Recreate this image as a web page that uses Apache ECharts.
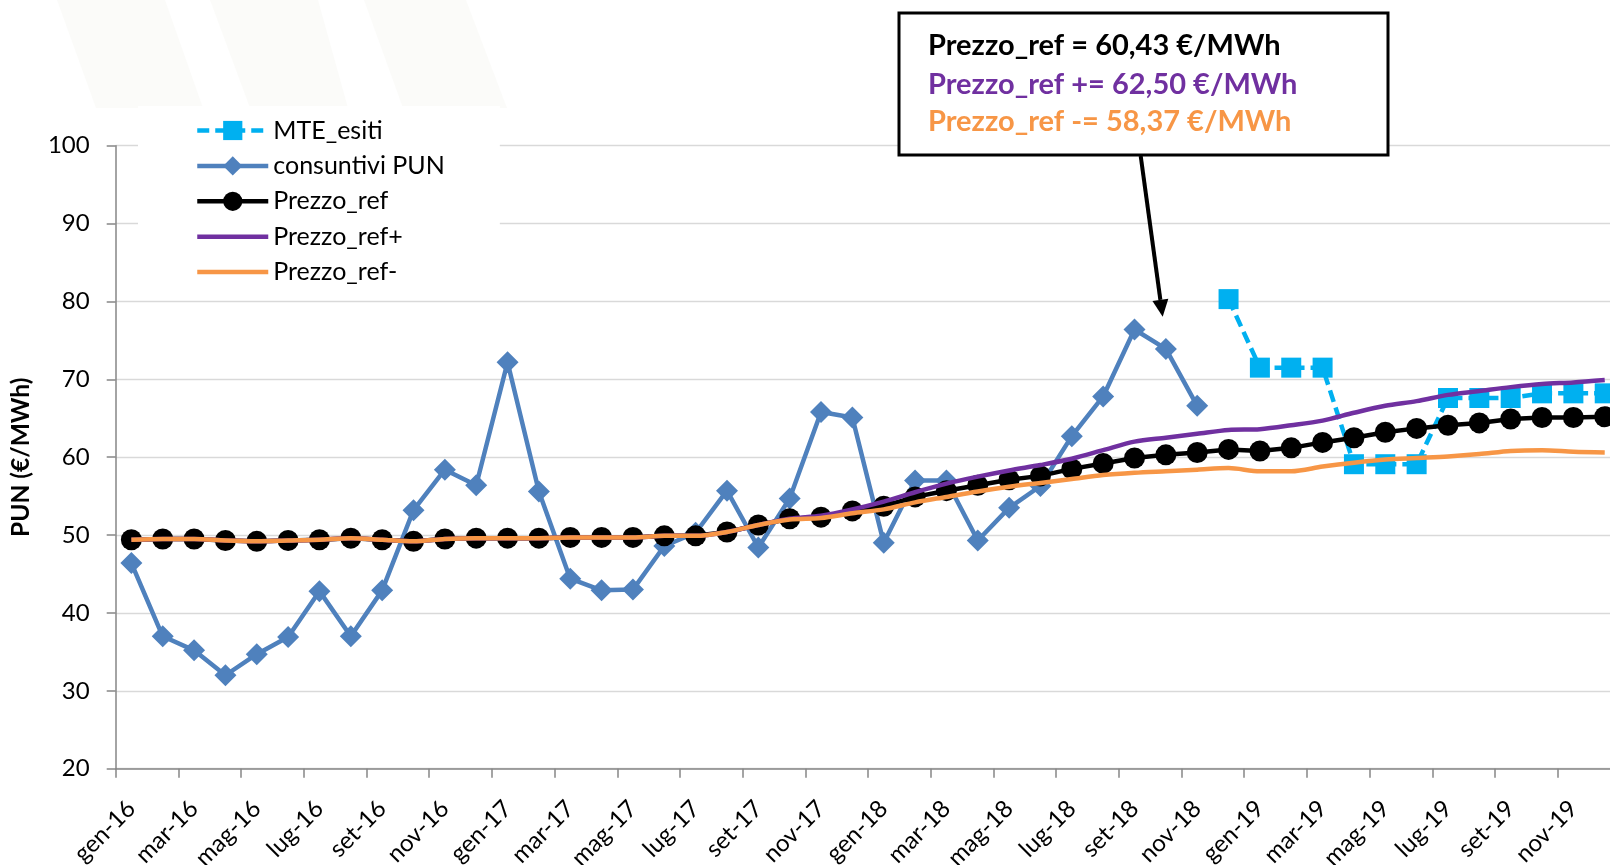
<!DOCTYPE html>
<html>
<head>
<meta charset="utf-8">
<script src="https://cdn.jsdelivr.net/npm/echarts@6/dist/echarts.min.js"></script>
<style>
html,body{margin:0;padding:0;background:#fff;}
#chart{width:1610px;height:865px;}
</style>
</head>
<body>
<div id="chart"></div>
<script>
var categories = [
 'gen-16','feb-16','mar-16','apr-16','mag-16','giu-16','lug-16','ago-16','set-16','ott-16','nov-16','dic-16',
 'gen-17','feb-17','mar-17','apr-17','mag-17','giu-17','lug-17','ago-17','set-17','ott-17','nov-17','dic-17',
 'gen-18','feb-18','mar-18','apr-18','mag-18','giu-18','lug-18','ago-18','set-18','ott-18','nov-18','dic-18',
 'gen-19','feb-19','mar-19','apr-19','mag-19','giu-19','lug-19','ago-19','set-19','ott-19','nov-19','dic-19'
];

var mteEsiti = [
 null,null,null,null,null,null,null,null,null,null,null,null,
 null,null,null,null,null,null,null,null,null,null,null,null,
 null,null,null,null,null,null,null,null,null,null,null,80.3,
 71.5,71.5,71.5,59.1,59.1,59.1,67.6,67.6,67.6,68.2,68.2,68.2
];

var consuntiviPUN = [
 46.4,37.0,35.2,32.0,34.7,36.9,42.8,37.0,42.9,53.2,58.4,56.4,
 72.2,55.6,44.4,42.9,43.0,48.6,50.3,55.7,48.4,54.7,65.8,65.1,
 49.0,57.0,57.0,49.3,53.5,56.3,62.7,67.8,76.4,73.9,66.6,null,
 null,null,null,null,null,null,null,null,null,null,null,null
];

var prezzoRef = [
 49.4,49.5,49.5,49.3,49.2,49.3,49.4,49.6,49.4,49.2,49.5,49.6,
 49.6,49.6,49.7,49.7,49.7,49.9,49.9,50.4,51.3,52.1,52.3,53.1,
 53.7,54.9,55.7,56.4,57.1,57.6,58.5,59.2,59.9,60.3,60.6,61.0,
 60.8,61.2,61.9,62.5,63.2,63.7,64.1,64.4,64.9,65.1,65.1,65.2
];

var prezzoRefPlus = [
 49.4,49.5,49.5,49.3,49.2,49.3,49.4,49.6,49.4,49.2,49.5,49.6,
 49.6,49.6,49.7,49.7,49.7,49.9,49.9,50.4,51.3,52.1,52.5,53.3,
 54.3,55.5,56.6,57.5,58.3,59.0,59.8,60.9,62.0,62.5,63.0,63.5,
 63.6,64.1,64.7,65.7,66.6,67.2,68.0,68.5,69.0,69.4,69.6,69.9
];

var prezzoRefMinus = [
 49.4,49.5,49.5,49.3,49.2,49.3,49.4,49.6,49.4,49.2,49.5,49.6,
 49.6,49.6,49.7,49.7,49.7,49.9,49.9,50.4,51.3,52.0,52.2,52.8,
 53.3,54.2,54.9,55.6,56.2,56.7,57.2,57.7,58.0,58.2,58.4,58.6,
 58.2,58.2,58.8,59.3,59.7,59.9,60.1,60.4,60.8,60.9,60.7,60.6
];

var seriesNames = ['MTE_esiti','consuntivi PUN','Prezzo_ref','Prezzo_ref+','Prezzo_ref-'];
var yTicks = { min: 20, max: 100, interval: 10 };
var axisTitle = 'PUN (€/MWh)';
var noteLines = ['Prezzo_ref = 60,43 €/MWh','Prezzo_ref += 62,50 €/MWh','Prezzo_ref -= 58,37 €/MWh'];

var FONT = 'Lato, "Open Sans", sans-serif';
var chart = echarts.init(document.getElementById('chart'), null, {renderer:'canvas'});

var arrowDir = (function(){var dx=22,dy=159.7,l=Math.sqrt(dx*dx+dy*dy);return [dx/l,dy/l];})();
var tip=[1162.7,316.7], headL=17, headW=8;
var base=[tip[0]-headL*arrowDir[0], tip[1]-headL*arrowDir[1]];
var perp=[arrowDir[1], -arrowDir[0]];

chart.setOption({
  animation: false,
  backgroundColor: '#ffffff',
  grid: { left: 115.7, top: 145.7, width: 1504.7, height: 623, containLabel: false, outerBoundsMode: 'none' },
  legend: {
    orient: 'vertical',
    left: 138, top: 106,
    padding: [12, 55, 8, 57],
    backgroundColor: '#ffffff',
    itemWidth: 71, itemHeight: 24, itemGap: 10.4,
    lineStyle: { width: 4.5 },
    data: [
      { name: seriesNames[0] },
      { name: seriesNames[1] },
      { name: seriesNames[2] },
      { name: seriesNames[3], itemStyle: { opacity: 0 } },
      { name: seriesNames[4], itemStyle: { opacity: 0 } }
    ],
    textStyle: { fontFamily: FONT, fontSize: 25, color: '#000', lineHeight: 20 }
  },
  xAxis: {
    type: 'category',
    data: categories,
    boundaryGap: true,
    axisLine: { show: true, lineStyle: { color: '#868686', width: 1.5 } },
    axisTick: { show: true, interval: 1, length: 9, lineStyle: { color: '#868686', width: 1.5 } },
    axisLabel: { interval: 1, rotate: 45, margin: 36, fontFamily: FONT, fontSize: 24, color: '#000' },
    splitLine: { show: false }
  },
  yAxis: {
    type: 'value',
    min: yTicks.min, max: yTicks.max, interval: yTicks.interval,
    name: axisTitle,
    nameLocation: 'middle',
    nameGap: 82,
    nameTextStyle: { fontFamily: FONT, fontSize: 24.5, fontWeight: 'bold', color: '#000' },
    axisLine: { show: true, lineStyle: { color: '#868686', width: 1.5 } },
    axisTick: { show: true, length: 9, lineStyle: { color: '#868686', width: 1.5 } },
    axisLabel: { margin: 26, fontFamily: FONT, fontSize: 24, color: '#000' },
    splitLine: { show: true, lineStyle: { color: '#d9d9d9', width: 1.3 } }
  },
  series: [
    { name: seriesNames[0], type: 'line', data: mteEsiti, connectNulls: false,
      symbol: 'rect', symbolSize: 20, showAllSymbol: true,
      lineStyle: { color: '#00B0F0', width: 4.5, type: [12, 6] },
      itemStyle: { color: '#00B0F0' }, z: 2 },
    { name: seriesNames[1], type: 'line', data: consuntiviPUN,
      symbol: 'diamond', symbolSize: 22, showAllSymbol: true,
      lineStyle: { color: '#4F81BD', width: 4.5 },
      itemStyle: { color: '#4F81BD' }, z: 3 },
    { name: seriesNames[2], type: 'line', data: prezzoRef,
      symbol: 'circle', symbolSize: 21, showAllSymbol: true,
      lineStyle: { color: '#000000', width: 4.5 },
      itemStyle: { color: '#000000' }, z: 4 },
    { name: seriesNames[3], type: 'line', data: prezzoRefPlus, smooth: 0.3,
      symbol: 'none', showSymbol: false,
      lineStyle: { color: '#7030A0', width: 4.5 },
      itemStyle: { color: '#7030A0' }, z: 5 },
    { name: seriesNames[4], type: 'line', data: prezzoRefMinus, smooth: 0.3,
      symbol: 'none', showSymbol: false,
      lineStyle: { color: '#F79646', width: 4.5 },
      itemStyle: { color: '#F79646' }, z: 6 }
  ],
  graphic: [
    { type: 'polygon', z: -10, silent: true, shape: { points: [[57,0],[165,0],[203,108],[96,108]] }, style: { fill: '#f9faf6', opacity: 0.7 } },
    { type: 'polygon', z: -10, silent: true, shape: { points: [[210,0],[318,0],[348,108],[250,108]] }, style: { fill: '#f9faf6', opacity: 0.7 } },
    { type: 'polygon', z: -10, silent: true, shape: { points: [[364,0],[466,0],[507,108],[403,108]] }, style: { fill: '#f9faf6', opacity: 0.7 } },
    { type: 'line', z: 100, silent: true, shape: { x1: 1140.7, y1: 156, x2: base[0], y2: base[1] }, style: { stroke: '#000', lineWidth: 4 } },
    { type: 'polygon', z: 100, silent: true, shape: { points: [tip, [base[0]+headW*perp[0], base[1]+headW*perp[1]], [base[0]-headW*perp[0], base[1]-headW*perp[1]]] }, style: { fill: '#000' } },
    { type: 'rect', z: 101, silent: true, shape: { x: 899, y: 13, width: 489, height: 142 }, style: { fill: '#fff', stroke: '#000', lineWidth: 3 } },
    { type: 'text', z: 102, silent: true, style: { x: 928, y: 46, text: noteLines[0], fill: '#000', font: 'bold 29px ' + FONT, verticalAlign: 'middle' } },
    { type: 'text', z: 102, silent: true, style: { x: 928, y: 85, text: noteLines[1], fill: '#7030A0', font: 'bold 29px ' + FONT, verticalAlign: 'middle' } },
    { type: 'text', z: 102, silent: true, style: { x: 928, y: 122, text: noteLines[2], fill: '#F79646', font: 'bold 29px ' + FONT, verticalAlign: 'middle' } }
  ]
});
</script>
</body>
</html>
